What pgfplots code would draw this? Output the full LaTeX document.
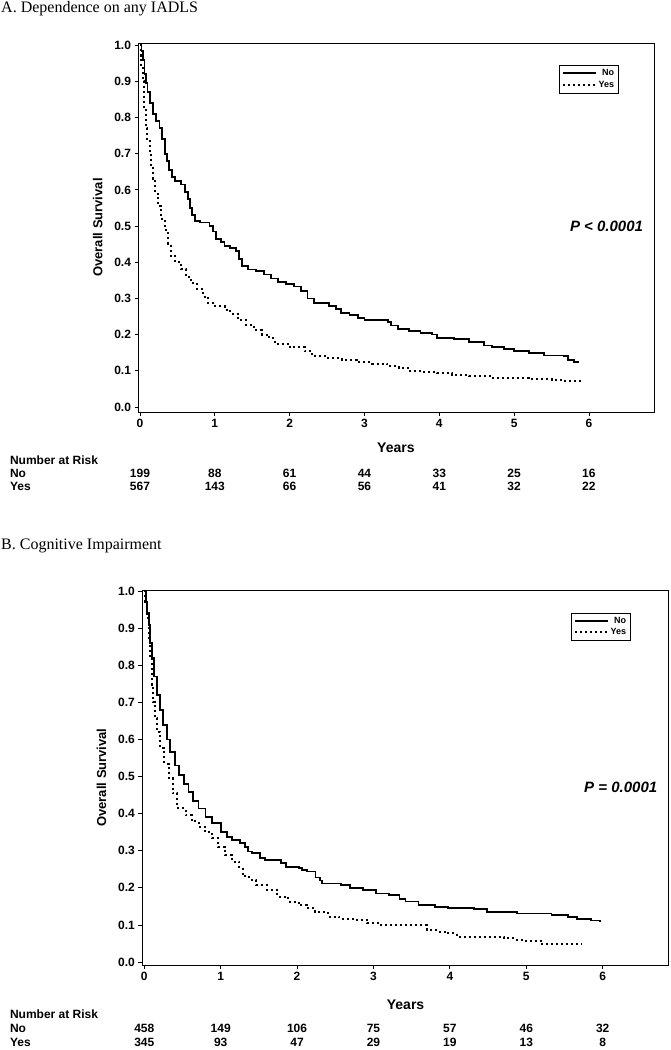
\documentclass[border=0pt]{standalone}
\usepackage{pgfplots}
\pgfplotsset{compat=1.18}
\usepackage{fontspec}
\setmainfont{Liberation Serif}
\setsansfont{Liberation Sans}
\newfontfamily\hv{Liberation Sans}

\tikzset{risk/.style={font=\hv\bfseries\fontsize{12}{12}\selectfont, inner sep=0pt}}
\pgfplotsset{
  km/.style={
    scale only axis, clip=false,
    axis line style={line width=1pt},
    every tick/.style={black, line width=0.8pt},
    xtick={0,1,2,3,4,5,6}, ytick={0,0.1,0.2,0.3,0.4,0.5,0.6,0.7,0.8,0.9,1.0},
    yticklabel style={/pgf/number format/fixed, /pgf/number format/fixed zerofill, /pgf/number format/precision=1},
    /pgf/number format/assume math mode=true,
    tick align=outside, xtick pos=bottom, ytick pos=left,
    major tick length=4pt,
    tick label style={font=\hv\bfseries\fontsize{12}{12}\selectfont},
    ylabel={Overall Survival}, ylabel shift=5pt,
    ylabel style={font=\hv\bfseries\fontsize{13}{13}\selectfont},
    legend style={at={(0.816,0.94)}, anchor=north west, draw=black, line width=0.8pt,
      font=\hv\bfseries\fontsize{9}{10}\selectfont, inner sep=2.5pt, row sep=1pt,
      nodes={inner sep=1.5pt}},
    legend cell align=right,
    legend image code/.code={\draw[##1] (0pt,0pt) -- (33pt,0pt);},
  },
  noline/.style={black, line width=1.8pt, const plot},
  yesline/.style={black, line width=2pt, const plot, dash pattern=on 2pt off 3pt},
}

\begin{document}
\begin{tikzpicture}
\path[use as bounding box] (0pt,0pt) rectangle (670pt,-1050pt);

\node[anchor=north west, font=\fontsize{16}{18}\selectfont, inner sep=0pt] at (1pt,-1pt) {A. Dependence on any IADLS};

\begin{axis}[km, at={(138.5pt,-412pt)}, anchor=south west, width=515.5pt, height=369pt,
  xmin=-0.02, xmax=6.87, ymin=-0.014, ymax=1.006]
\addplot[noline] coordinates {
(0,1.0) (0.02,0.985) (0.04,0.96) (0.06,0.92) (0.08,0.895) (0.1,0.87) (0.13,0.84) (0.17,0.81)
(0.21,0.79) (0.26,0.77) (0.29,0.74) (0.33,0.70) (0.36,0.68) (0.39,0.655) (0.43,0.635) (0.47,0.625)
(0.55,0.615) (0.6,0.595) (0.64,0.575) (0.67,0.55) (0.7,0.53) (0.74,0.515) (0.8,0.51) (0.93,0.50)
(0.98,0.485) (1.02,0.465) (1.08,0.455) (1.13,0.445) (1.2,0.44) (1.28,0.43) (1.32,0.41) (1.36,0.39)
(1.44,0.38) (1.55,0.375) (1.66,0.366) (1.75,0.355) (1.84,0.345) (1.95,0.34) (2.06,0.333) (2.15,0.32)
(2.24,0.30) (2.33,0.287) (2.53,0.28) (2.62,0.27) (2.69,0.26) (2.8,0.255) (2.91,0.246) (3.0,0.24)
(3.31,0.235) (3.36,0.225) (3.45,0.215) (3.6,0.21) (3.75,0.205) (3.9,0.20) (3.97,0.19) (4.2,0.188)
(4.4,0.18) (4.6,0.17) (4.7,0.165) (4.87,0.16) (5.0,0.155) (5.2,0.15) (5.4,0.142) (5.67,0.14)
(5.72,0.13) (5.8,0.125) (5.87,0.125)
};
\addlegendentry{No}
\addplot[yesline] coordinates {
(0,1.0) (0.01,0.97) (0.02,0.94) (0.04,0.9) (0.06,0.83) (0.08,0.77) (0.1,0.735) (0.13,0.70)
(0.15,0.665) (0.17,0.63) (0.2,0.59) (0.24,0.555) (0.28,0.52) (0.33,0.49) (0.37,0.45) (0.41,0.416)
(0.47,0.40) (0.55,0.38) (0.62,0.36) (0.68,0.343) (0.76,0.325) (0.84,0.305) (0.91,0.287) (1.0,0.278)
(1.13,0.269) (1.2,0.258) (1.31,0.241) (1.42,0.227) (1.53,0.213) (1.63,0.20) (1.73,0.19) (1.8,0.175)
(2.0,0.165) (2.2,0.155) (2.3,0.14) (2.5,0.135) (2.7,0.13) (2.9,0.125) (3.1,0.12) (3.3,0.113)
(3.46,0.108) (3.6,0.10) (3.8,0.097) (3.97,0.093) (4.17,0.088) (4.4,0.085) (4.7,0.08) (5.2,0.078)
(5.5,0.075) (5.67,0.072) (5.92,0.07)
};
\addlegendentry{Yes}
\node[anchor=east, font=\hv\bfseries\itshape\fontsize{15}{15}\selectfont] at (axis cs:6.77,0.50) {P < 0.0001};
\node[font=\hv\bfseries\fontsize{14}{14}\selectfont] at (axis cs:3.42,-0.114) {Years};
\node[risk, anchor=west] at (axis cs:-1.74,-0.147) {Number at Risk};
\node[risk, anchor=west] at (axis cs:-1.74,-0.183) {No};
\node[risk, anchor=west] at (axis cs:-1.74,-0.219) {Yes};
\node[risk] at (axis cs:0,-0.183) {199};
\node[risk] at (axis cs:1,-0.183) {88};
\node[risk] at (axis cs:2,-0.183) {61};
\node[risk] at (axis cs:3,-0.183) {44};
\node[risk] at (axis cs:4,-0.183) {33};
\node[risk] at (axis cs:5,-0.183) {25};
\node[risk] at (axis cs:6,-0.183) {16};
\node[risk] at (axis cs:0,-0.219) {567};
\node[risk] at (axis cs:1,-0.219) {143};
\node[risk] at (axis cs:2,-0.219) {66};
\node[risk] at (axis cs:3,-0.219) {56};
\node[risk] at (axis cs:4,-0.219) {41};
\node[risk] at (axis cs:5,-0.219) {32};
\node[risk] at (axis cs:6,-0.219) {22};
\end{axis}

\node[anchor=west, font=\fontsize{16}{18}\selectfont, inner sep=0pt] at (1pt,-546pt) {B. Cognitive Impairment};

\begin{axis}[km, at={(142.3pt,-965pt)}, anchor=south west, width=525.7pt, height=375pt,
  xmin=-0.026, xmax=6.855, ymin=-0.008, ymax=1.003]
\addplot[noline] coordinates {
(0,1.0) (0.02,0.97) (0.04,0.94) (0.06,0.908) (0.08,0.86) (0.1,0.82) (0.13,0.77) (0.17,0.72)
(0.21,0.68) (0.25,0.64) (0.3,0.60) (0.34,0.567) (0.4,0.53) (0.45,0.504) (0.52,0.48) (0.58,0.459)
(0.64,0.435) (0.71,0.414) (0.8,0.39) (0.89,0.374) (1.0,0.35) (1.08,0.338) (1.15,0.329) (1.25,0.32)
(1.32,0.311) (1.36,0.298) (1.41,0.293) (1.51,0.28) (1.58,0.275) (1.79,0.266) (1.85,0.257) (2.02,0.253)
(2.06,0.248) (2.13,0.244) (2.24,0.228) (2.3,0.22) (2.33,0.212) (2.58,0.208) (2.69,0.2) (2.86,0.194)
(3.03,0.185) (3.2,0.18) (3.34,0.17) (3.42,0.163) (3.59,0.153) (3.8,0.148) (3.98,0.145) (4.32,0.142)
(4.49,0.135) (4.88,0.131) (5.33,0.126) (5.55,0.122) (5.66,0.116) (5.85,0.112) (5.97,0.111)
};
\addlegendentry{No}
\addplot[yesline] coordinates {
(0,1.0) (0.01,0.97) (0.035,0.927) (0.06,0.87) (0.08,0.82) (0.1,0.747) (0.12,0.70) (0.14,0.657)
(0.17,0.62) (0.21,0.577) (0.26,0.535) (0.32,0.496) (0.37,0.455) (0.43,0.415) (0.54,0.396) (0.62,0.38)
(0.71,0.365) (0.8,0.35) (0.89,0.334) (0.97,0.31) (1.06,0.288) (1.15,0.27) (1.24,0.252) (1.29,0.232)
(1.37,0.222) (1.46,0.208) (1.6,0.195) (1.74,0.176) (1.88,0.163) (2.02,0.153) (2.13,0.145) (2.24,0.135)
(2.41,0.122) (2.55,0.117) (2.75,0.114) (2.92,0.104) (3.1,0.1) (3.65,0.099) (3.7,0.086) (3.85,0.082)
(3.98,0.077) (4.09,0.068) (4.71,0.065) (4.85,0.06) (4.99,0.057) (5.21,0.048) (5.72,0.048)
};
\addlegendentry{Yes}
\node[anchor=east, font=\hv\bfseries\itshape\fontsize{15}{15}\selectfont] at (axis cs:6.76,0.47) {P = 0.0001};
\node[font=\hv\bfseries\fontsize{14}{14}\selectfont] at (axis cs:3.42,-0.116) {Years};
\node[risk, anchor=west] at (axis cs:-1.76,-0.140) {Number at Risk};
\node[risk, anchor=west] at (axis cs:-1.76,-0.178) {No};
\node[risk, anchor=west] at (axis cs:-1.76,-0.216) {Yes};
\node[risk] at (axis cs:0,-0.178) {458};
\node[risk] at (axis cs:1,-0.178) {149};
\node[risk] at (axis cs:2,-0.178) {106};
\node[risk] at (axis cs:3,-0.178) {75};
\node[risk] at (axis cs:4,-0.178) {57};
\node[risk] at (axis cs:5,-0.178) {46};
\node[risk] at (axis cs:6,-0.178) {32};
\node[risk] at (axis cs:0,-0.216) {345};
\node[risk] at (axis cs:1,-0.216) {93};
\node[risk] at (axis cs:2,-0.216) {47};
\node[risk] at (axis cs:3,-0.216) {29};
\node[risk] at (axis cs:4,-0.216) {19};
\node[risk] at (axis cs:5,-0.216) {13};
\node[risk] at (axis cs:6,-0.216) {8};
\end{axis}
\end{tikzpicture}
\end{document}
